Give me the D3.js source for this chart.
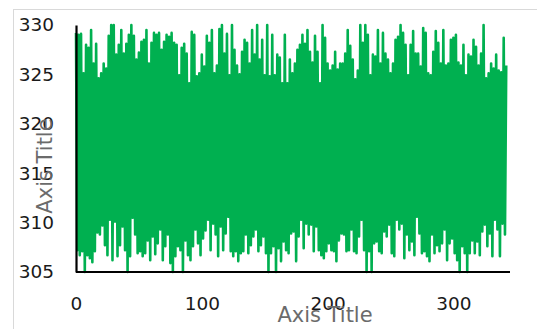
<!DOCTYPE html>
<html>
<head>
<meta charset="utf-8">
<script src="https://cdn.jsdelivr.net/npm/d3@7/dist/d3.min.js"></script>
<style>
  body { margin: 0; background: #fff; }
  svg text { font-family: "DejaVu Sans", sans-serif; }
  .tick text { fill: #1a1a1a; font-size: 18.5px; }
  .axisTitle { fill: #6b6b6b; font-size: 21px; }
</style>
</head>
<body>
<div id="chart"></div>
<script>
// upper swings of the series, read left to right
var peakValues = [
  329.2, 329.0, 329.1, 325.1, 328.0, 327.7, 329.5, 326.1, 328.1, 324.6,
  325.1, 326.1, 325.6, 328.9, 330, 330, 327.0, 328.0, 329.5, 327.1,
  328.1, 329.0, 330, 328.9, 326.5, 327.2, 328.3, 328.5, 329.5, 326.1,
  328.2, 329.2, 329.0, 329.2, 327.5, 328.3, 329.0, 328.8, 329.2, 328.2,
  328.0, 324.9, 327.7, 328.1, 327.1, 324.1, 329.3, 329.0, 324.8, 325.1,
  327.0, 325.8, 328.9, 328.2, 329.5, 325.1, 325.9, 329.6, 330,
  327.1, 329.1, 324.9, 330, 327.5, 325.9, 325.0, 327.3, 328.5, 328.2,
  326.1, 329.5, 327.0, 330, 326.5, 328.5, 324.9, 330, 324.8, 329.0,
  324.9, 327.0, 326.7, 324.1, 329.0, 324.1, 326.5, 325.1, 326.1, 327.5,
  328.0, 329.0, 328.1, 329.5, 327.3, 326.2, 328.9, 327.3, 324.1, 330,
  328.7, 326.1, 325.4, 325.9, 327.3, 325.5, 326.1, 326.1, 327.1, 329.5,
  327.9, 326.5, 324.5, 325.4, 330, 328.2, 330, 329.0,
  324.9, 327.0, 326.8, 329.5, 326.1, 329.2, 327.1, 326.5, 325.1, 326.1,
  328.5, 328.8, 330, 329.2, 328.0, 324.9, 328.0, 329.4, 327.1, 327.1,
  325.8, 329.7, 329.2, 325.1, 324.9, 327.3, 329.4, 328.2, 326.1, 329.5,
  325.9, 326.1, 328.5, 328.7, 329.0, 326.2, 325.9, 328.0, 324.9, 327.0,
  326.8, 328.5, 327.8, 325.9, 327.1, 330, 324.6, 325.1, 326.1, 325.6,
  327.0, 325.4, 325.2, 328.7, 325.9
];

// lower swings of the series, read left to right
var troughValues = [
  307.2, 306.7, 307.1, 305.0, 306.7, 306.4, 306.0, 307.1, 309.0, 308.8,
  309.7, 307.7, 306.7, 310.3, 306.2, 310.1, 306.6, 307.7, 309.6, 307.2,
  305.0, 306.6, 310.5, 308.8, 306.9, 307.1, 306.6, 306.9, 308.2, 306.2,
  308.6, 306.8, 307.9, 309.3, 306.2, 307.6, 308.8, 305.9, 305.0, 306.6,
  307.6, 307.2, 305.0, 308.2, 306.7, 306.2, 307.6, 309.3, 307.9, 306.7,
  308.4, 309.2, 310.3, 307.2, 309.9, 308.8, 306.6, 309.6, 307.2,
  308.9, 310.6, 307.1, 306.6, 307.1, 306.1, 306.9, 307.1, 308.8, 306.9,
  307.7, 308.6, 309.3, 307.1, 307.7, 308.6, 306.9, 305.0, 306.9,
  307.6, 305.0, 307.4, 306.1, 308.1, 307.2, 306.9, 308.9, 309.1, 306.1,
  308.6, 310.3, 307.4, 309.9, 308.8, 309.8, 307.1, 309.6, 307.2, 306.7,
  306.4, 307.1, 307.9, 307.2, 307.1, 306.1, 308.2, 308.9, 308.8, 307.1,
  307.2, 309.3, 307.1, 306.9, 308.6, 310.3, 307.2, 305.0, 307.1,
  305.0, 307.9, 308.1, 307.1, 306.9, 309.1, 308.6, 309.8, 306.9, 306.6,
  310.3, 309.3, 309.9, 306.4, 308.8, 307.2, 308.1, 306.7, 310.6, 308.9,
  306.9, 307.1, 306.6, 306.1, 308.8, 306.9, 307.7, 307.1, 307.9, 309.3,
  306.2, 307.9, 308.4, 306.9, 306.2, 305.0, 307.6, 306.9, 305.0, 306.9,
  308.2, 306.9, 308.1, 306.7, 309.1, 309.8, 307.6, 308.9, 306.6, 310.3,
  309.3, 306.6, 309.9, 308.8
];

var xTicks = [0, 100, 200, 300];
var yTicks = [305, 310, 315, 320, 325, 330];
var xTitle = "Axis Title";
var yTitle = "Axis Title";

var width = 537, height = 329;

var svg = d3.select("#chart").append("svg")
    .attr("width", width)
    .attr("height", height);

// chart frame (only top and left edges fall inside the picture)
svg.append("rect")
    .attr("x", 13.5)
    .attr("y", 9.5)
    .attr("width", 600)
    .attr("height", 400)
    .attr("fill", "none")
    .attr("stroke", "#d9d9d9")
    .attr("stroke-width", 1);

// series alternates between peak and trough
var series = [];
peakValues.forEach(function (p, i) {
    series.push(p);
    if (i < troughValues.length) series.push(troughValues[i]);
});
var points = series.map((v, i) => ({ x: i, y: v }));

var x = d3.scaleLinear().domain([0, 345]).range([76, 510]);
var y = d3.scaleLinear().domain([305, 330]).range([272, 25]);

var line = d3.line()
    .x(d => x(d.x))
    .y(d => y(d.y));

svg.append("path")
    .datum(points)
    .attr("fill", "none")
    .attr("stroke", "#00b050")
    .attr("stroke-width", 2.6)
    .attr("stroke-linejoin", "round")
    .attr("d", line);

var xAxis = d3.axisBottom(x)
    .tickValues(xTicks)
    .tickSize(0)
    .tickPadding(25)
    .tickFormat(d3.format("d"));

var yAxis = d3.axisLeft(y)
    .tickValues(yTicks)
    .tickSize(0)
    .tickPadding(22)
    .tickFormat(d3.format("d"));

var gx = svg.append("g")
    .attr("transform", `translate(0, ${y(305)})`)
    .call(xAxis);

var gy = svg.append("g")
    .attr("transform", `translate(${x(0)}, 0)`)
    .call(yAxis);

[gx, gy].forEach(function (g) {
    g.select(".domain")
        .attr("stroke", "#000")
        .attr("stroke-width", 2.2);
    g.selectAll(".tick text").attr("font-size", null).attr("font-family", null);
});
gx.select(".domain").attr("d", `M${x(0)},0H510`);

svg.append("text")
    .attr("class", "axisTitle")
    .attr("x", 325)
    .attr("y", 322)
    .attr("text-anchor", "middle")
    .text(xTitle);

svg.append("text")
    .attr("class", "axisTitle")
    .attr("transform", "translate(52, 166) rotate(-90)")
    .attr("text-anchor", "middle")
    .text(yTitle);
</script>
</body>
</html>
